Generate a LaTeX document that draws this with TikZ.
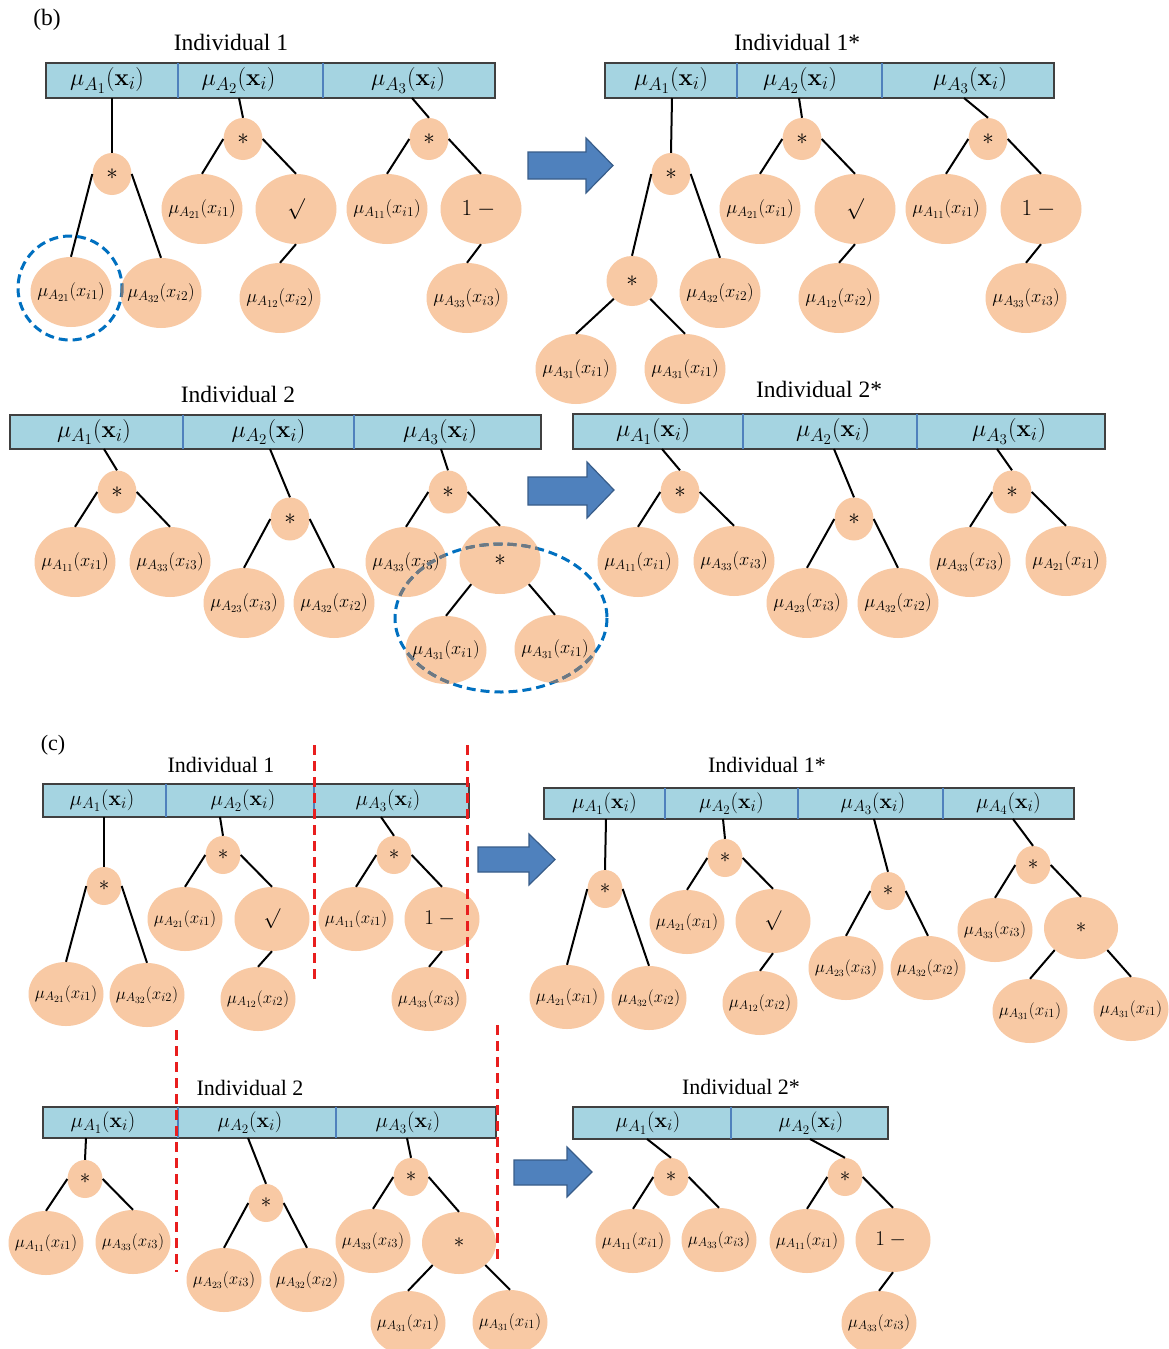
\RequirePackage{fix-cm}
\documentclass[tikz,border=0pt]{standalone}
\usepackage[no-math]{fontspec}
\setmainfont{Liberation Serif}
\usetikzlibrary{shapes.geometric}
\DeclareMathSizes{24}{24}{18.5}{15}
\DeclareMathSizes{21}{21}{16}{13}
\DeclareMathSizes{18.5}{18.5}{13.5}{10.5}
\DeclareMathSizes{17}{17}{12.5}{9.5}
\definecolor{peach}{RGB}{248,201,164}
\definecolor{barblue}{RGB}{165,212,225}
\definecolor{divblue}{RGB}{79,129,189}
\definecolor{arrowfill}{RGB}{79,129,189}
\definecolor{arrowline}{RGB}{56,93,138}
\definecolor{dashblue}{RGB}{0,112,192}
\definecolor{dashgray}{RGB}{112,120,128}
\definecolor{redline}{RGB}{232,30,30}
\newcommand\fbarB{\fontsize{24}{28}\selectfont}
\newcommand\fbarC{\fontsize{21}{25}\selectfont}
\newcommand\fleafB{\fontsize{18.5}{22}\selectfont}
\newcommand\fleafC{\fontsize{17}{20}\selectfont}
\newcommand\fstarB{\fontsize{23}{27}\selectfont}
\newcommand\fstarC{\fontsize{21}{25}\selectfont}
\newcommand\ftitle{\fontsize{23.5}{28}\selectfont}
\newcommand\mlf[2]{$\mu_{A_{#1}}(x_{i#2})$}
\newcommand\mbar[1]{$\mu_{A_{#1}}(\mathbf{x}_i)$}
\newcommand\shft[2]{\hspace*{#1pt}#2\hspace*{-#1pt}}
\tikzset{
  cellB/.style={rectangle, fill=barblue, inner sep=0pt, minimum height=35pt, font=\fbarB},
  cellC/.style={rectangle, fill=barblue, inner sep=0pt, minimum height=32pt, font=\fbarC},
  barframe/.style={draw=black!75, line width=1.5pt},
  divider/.style={draw=divblue, line width=1.8pt},
  leafB/.style={ellipse, fill=peach, minimum width=81pt, minimum height=70pt, inner xsep=-16pt, inner ysep=-4pt, font=\fleafB},
  leafC/.style={ellipse, fill=peach, minimum width=75pt, minimum height=64pt, inner xsep=-16pt, inner ysep=-4pt, font=\fleafC},
  opB/.style={ellipse, fill=peach, minimum width=39pt, minimum height=42pt, inner sep=0pt, font=\fstarB},
  opC/.style={ellipse, fill=peach, minimum width=35pt, minimum height=38pt, inner sep=0pt, font=\fstarC},
  midB/.style={ellipse, fill=peach, minimum width=51pt, minimum height=50pt, inner sep=0pt, font=\fstarB},
  bigB/.style={leafB, font=\fstarB},
  bigC/.style={ellipse, fill=peach, minimum width=74pt, minimum height=62pt, inner sep=0pt, font=\fstarC},
  sqB/.style={leafB, font=\fontsize{21}{25}\selectfont},
  sqC/.style={leafC, font=\fontsize{20}{24}\selectfont},
  omB/.style={leafB, font=\fontsize{23}{27}\selectfont},
  omC/.style={leafC, font=\fontsize{21}{25}\selectfont},
  edge/.style={draw=black, line width=2pt},
  title/.style={font=\ftitle, inner sep=0pt},
  dashring/.style={draw=dashblue, line width=3pt, dash pattern=on 9pt off 5pt},
  dashring2/.style={draw=dashgray, line width=3pt, dash pattern=on 9pt off 5pt},
  cutline/.style={draw=redline, line width=3pt, dash pattern=on 10pt off 6pt},
  blockarrow/.style={fill=arrowfill, draw=arrowline, line width=1.2pt, line join=miter}
}
\begin{document}
\begin{tikzpicture}[x=1pt,y=-1pt]
\useasboundingbox (0,0) rectangle (1168,1349);
\fill[white] (0,0) rectangle (1168,1349);

% ================= panel (b) =================
\node[title] (lbB) at (47,20) {(b)};

% ---- Individual 1 ----
\node[title] (tB1) at (231,42) {Individual 1};
\node[cellB, minimum width=132pt] (b1c1) at (112,80.5) {\shft{-5}{\mbar{1}}};
\node[cellB, minimum width=145pt] (b1c2) at (250.5,80.5) {\shft{-12}{\mbar{2}}};
\node[cellB, minimum width=172pt] (b1c3) at (409,80.5) {\shft{-1}{\mbar{3}}};
\draw[barframe] (b1c1.north west) rectangle (b1c3.south east);
\draw[divider] (b1c1.north east) -- (b1c1.south east);
\draw[divider] (b1c2.north east) -- (b1c2.south east);
\coordinate (b1a1) at (112,98);
\coordinate (b1a2) at (239,98);
\coordinate (b1a3) at (412,98);

\node[opB] (b1s1) at (112,174) {$\ast$};
\node[leafB] (b1l1) at (71,292) {\mlf{21}{1}};
\node[leafB] (b1l2) at (161,293) {\mlf{32}{2}};
\node[opB] (b1s2) at (243,139) {$\ast$};
\node[leafB] (b1l3) at (202,209) {\mlf{21}{1}};
\node[sqB] (b1q) at (296,209) {$\surd$};
\node[leafB] (b1l4) at (280,298) {\mlf{12}{2}};
\node[opB] (b1s3) at (429,139) {$\ast$};
\node[leafB] (b1l5) at (387,209) {\mlf{11}{1}};
\node[omB] (b1m) at (481,209) {$1-{}$};
\node[leafB] (b1l6) at (467,298) {\mlf{33}{3}};

\draw[edge] (b1a1) -- (b1s1.north);
\draw[edge] (b1s1.west) -- (b1l1.north);
\draw[edge] (b1s1.east) -- (b1l2.north);
\draw[edge] (b1a2) -- (b1s2.north);
\draw[edge] (b1s2.west) -- (b1l3.north);
\draw[edge] (b1s2.east) -- (b1q.north);
\draw[edge] (b1q.south) -- (b1l4.north);
\draw[edge] (b1a3) -- (b1s3.north);
\draw[edge] (b1s3.west) -- (b1l5.north);
\draw[edge] (b1s3.east) -- (b1m.north);
\draw[edge] (b1m.south) -- (b1l6.north);

\draw[dashring] (70,288) circle[radius=52];
\begin{scope}
  \clip (b1l2.center) ellipse[x radius=40.5, y radius=35];
  \draw[dashring2] (70,288) circle[radius=52];
\end{scope}

% ---- Individual 1* ----
\node[title] (tB1s) at (797,42) {Individual 1*};
\node[cellB, minimum width=132pt] (d1c1) at (671,80.5) {\mbar{1}};
\node[cellB, minimum width=145pt] (d1c2) at (809.5,80.5) {\shft{-9.5}{\mbar{2}}};
\node[cellB, minimum width=172pt] (d1c3) at (968,80.5) {\shft{2}{\mbar{3}}};
\draw[barframe] (d1c1.north west) rectangle (d1c3.south east);
\draw[divider] (d1c1.north east) -- (d1c1.south east);
\draw[divider] (d1c2.north east) -- (d1c2.south east);
\coordinate (d1a1) at (672,98);
\coordinate (d1a2) at (799,98);
\coordinate (d1a3) at (964,98);

\node[opB] (d1s1) at (671,174) {$\ast$};
\node[midB] (d1s4) at (632,281) {$\ast$};
\node[leafB] (d1l1) at (576,369) {\mlf{31}{1}};
\node[leafB] (d1l2) at (685,369) {\mlf{31}{1}};
\node[leafB] (d1l3) at (720,293) {\mlf{32}{2}};
\node[opB] (d1s2) at (802,139) {$\ast$};
\node[leafB] (d1l4) at (760,209) {\mlf{21}{1}};
\node[sqB] (d1q) at (855,209) {$\surd$};
\node[leafB] (d1l5) at (839,298) {\mlf{12}{2}};
\node[opB] (d1s3) at (988,139) {$\ast$};
\node[leafB] (d1l6) at (946,209) {\mlf{11}{1}};
\node[omB] (d1m) at (1041,209) {$1-{}$};
\node[leafB] (d1l7) at (1026,298) {\mlf{33}{3}};

\draw[edge] (d1a1) -- (d1s1.north);
\draw[edge] (d1s1.west) -- (d1s4.north);
\draw[edge] (d1s1.east) -- (d1l3.north);
\draw[edge] (d1s4.south west) -- (d1l1.north);
\draw[edge] (d1s4.south east) -- (d1l2.north);
\draw[edge] (d1a2) -- (d1s2.north);
\draw[edge] (d1s2.west) -- (d1l4.north);
\draw[edge] (d1s2.east) -- (d1q.north);
\draw[edge] (d1q.south) -- (d1l5.north);
\draw[edge] (d1a3) -- (d1s3.north);
\draw[edge] (d1s3.west) -- (d1l6.north);
\draw[edge] (d1s3.east) -- (d1m.north);
\draw[edge] (d1m.south) -- (d1l7.north);

% ---- Individual 2 ----
\node[title] (tB2) at (238,394) {Individual 2};
\node[cellB, minimum width=173pt, minimum height=34pt] (b2c1) at (96.5,432) {\shft{-2.5}{\mbar{1}}};
\node[cellB, minimum width=171pt, minimum height=34pt] (b2c2) at (268.5,432) {\mbar{2}};
\node[cellB, minimum width=187pt, minimum height=34pt] (b2c3) at (447.5,432) {\shft{-7.5}{\mbar{3}}};
\draw[barframe] (b2c1.north west) rectangle (b2c3.south east);
\draw[divider] (b2c1.north east) -- (b2c1.south east);
\draw[divider] (b2c2.north east) -- (b2c2.south east);
\coordinate (b2a1) at (104,449);
\coordinate (b2a2) at (270,449);
\coordinate (b2a3) at (441,449);

\node[opB, minimum height=43pt] (b2s1) at (117,492) {$\ast$};
\node[leafB] (b2l1) at (75,562) {\mlf{11}{1}};
\node[leafB] (b2l2) at (170,562) {\mlf{33}{3}};
\node[opB, minimum height=43pt] (b2s2) at (290,519) {$\ast$};
\node[leafB] (b2l3) at (244,603) {\mlf{23}{3}};
\node[leafB] (b2l4) at (334,603) {\mlf{32}{2}};
\node[opB, minimum height=43pt] (b2s3) at (448,492) {$\ast$};
\node[leafB] (b2l5) at (406,562) {\mlf{33}{3}};
\node[bigB, minimum height=68pt] (b2b) at (500,560) {$\ast$};
\node[leafB, minimum height=68pt] (b2l6) at (446,650) {\mlf{31}{1}};
\node[leafB, minimum height=68pt] (b2l7) at (555,649) {\mlf{31}{1}};

\draw[edge] (b2a1) -- (b2s1.north);
\draw[edge] (b2s1.west) -- (b2l1.north);
\draw[edge] (b2s1.east) -- (b2l2.north);
\draw[edge] (b2a2) -- (b2s2.north);
\draw[edge] (b2s2.west) -- (b2l3.north);
\draw[edge] (b2s2.east) -- (b2l4.north);
\draw[edge] (b2a3) -- (b2s3.north);
\draw[edge] (b2s3.west) -- (b2l5.north);
\draw[edge] (b2s3.east) -- (b2b.north);
\draw[edge] (b2b.south west) -- (b2l6.north);
\draw[edge] (b2b.south east) -- (b2l7.north);

\draw[dashring] (501,618) ellipse[x radius=106, y radius=74];
\begin{scope}
  \clip (b2l5.center) ellipse[x radius=40.5, y radius=35]
        (b2b.center) ellipse[x radius=40.5, y radius=34]
        (b2l6.center) ellipse[x radius=40.5, y radius=34]
        (b2l7.center) ellipse[x radius=40.5, y radius=34];
  \draw[dashring2] (501,618) ellipse[x radius=106, y radius=74];
\end{scope}

% ---- Individual 2* ----
\node[title] (tB2s) at (819,389) {Individual 2*};
\node[cellB, minimum width=170pt] (d2c1) at (658,431.5) {\shft{-5}{\mbar{1}}};
\node[cellB, minimum width=174pt] (d2c2) at (830,431.5) {\shft{3}{\mbar{2}}};
\node[cellB, minimum width=188pt] (d2c3) at (1011,431.5) {\shft{-2}{\mbar{3}}};
\draw[barframe] (d2c1.north west) rectangle (d2c3.south east);
\draw[divider] (d2c1.north east) -- (d2c1.south east);
\draw[divider] (d2c2.north east) -- (d2c2.south east);
\coordinate (d2a1) at (662,449);
\coordinate (d2a2) at (834,449);
\coordinate (d2a3) at (997,449);

\node[opB, minimum height=43pt] (d2s1) at (680,492) {$\ast$};
\node[leafB] (d2l1) at (638,562) {\mlf{11}{1}};
\node[leafB] (d2l2) at (734,561) {\mlf{33}{3}};
\node[opB, minimum height=43pt] (d2s2) at (854,519) {$\ast$};
\node[leafB] (d2l3) at (807,603) {\mlf{23}{3}};
\node[leafB] (d2l4) at (898,603) {\mlf{32}{2}};
\node[opB, minimum height=43pt] (d2s3) at (1012,492) {$\ast$};
\node[leafB] (d2l5) at (970,562) {\mlf{33}{3}};
\node[leafB] (d2l6) at (1066,561) {\mlf{21}{1}};

\draw[edge] (d2a1) -- (d2s1.north);
\draw[edge] (d2s1.west) -- (d2l1.north);
\draw[edge] (d2s1.east) -- (d2l2.north);
\draw[edge] (d2a2) -- (d2s2.north);
\draw[edge] (d2s2.west) -- (d2l3.north);
\draw[edge] (d2s2.east) -- (d2l4.north);
\draw[edge] (d2a3) -- (d2s3.north);
\draw[edge] (d2s3.west) -- (d2l5.north);
\draw[edge] (d2s3.east) -- (d2l6.north);

% arrows (b)
\filldraw[blockarrow] (528,152) -- (586,152) -- (586,138) -- (613,165.5) -- (586,193) -- (586,179) -- (528,179) -- cycle;
\filldraw[blockarrow] (528,477) -- (587,477) -- (587,462) -- (614,490) -- (587,518) -- (587,505) -- (528,505) -- cycle;

% ================= panel (c) =================
\node[title, font=\fontsize{22}{26}\selectfont] (lbC) at (53,745) {(c)};

% ---- Individual 1 ----
\node[title, font=\fontsize{22}{26}\selectfont] (tC1) at (221,765) {Individual 1};
\node[cellC, minimum width=123pt, minimum height=33pt] (c1c1) at (104.5,800.5) {\shft{-2.5}{\mbar{1}}};
\node[cellC, minimum width=148pt, minimum height=33pt] (c1c2) at (240,800.5) {\shft{3}{\mbar{2}}};
\node[cellC, minimum width=155pt, minimum height=33pt] (c1c3) at (391.5,800.5) {\shft{-3.5}{\mbar{3}}};
\draw[barframe] (c1c1.north west) rectangle (c1c3.south east);
\draw[divider] (c1c1.north east) -- (c1c1.south east);
\draw[divider] (c1c2.north east) -- (c1c2.south east);
\coordinate (c1a1) at (104,817);
\coordinate (c1a2) at (220,817);
\coordinate (c1a3) at (381,817);

\node[opC] (c1s1) at (104,886) {$\ast$};
\node[leafC] (c1l1) at (66,994) {\mlf{21}{1}};
\node[leafC] (c1l2) at (147,995) {\mlf{32}{2}};
\node[opC] (c1s2) at (223,855) {$\ast$};
\node[leafC] (c1l3) at (185,919) {\mlf{21}{1}};
\node[sqC] (c1q) at (272,919) {$\surd$};
\node[leafC] (c1l4) at (258,999) {\mlf{12}{2}};
\node[opC] (c1s3) at (394,855) {$\ast$};
\node[leafC] (c1l5) at (356,919) {\mlf{11}{1}};
\node[omC] (c1m) at (442,919) {$1-{}$};
\node[leafC] (c1l6) at (429,999) {\mlf{33}{3}};

\draw[edge] (c1a1) -- (c1s1.north);
\draw[edge] (c1s1.west) -- (c1l1.north);
\draw[edge] (c1s1.east) -- (c1l2.north);
\draw[edge] (c1a2) -- (c1s2.north);
\draw[edge] (c1s2.west) -- (c1l3.north);
\draw[edge] (c1s2.east) -- (c1q.north);
\draw[edge] (c1q.south) -- (c1l4.north);
\draw[edge] (c1a3) -- (c1s3.north);
\draw[edge] (c1s3.west) -- (c1l5.north);
\draw[edge] (c1s3.east) -- (c1m.north);
\draw[edge] (c1m.south) -- (c1l6.north);

\draw[cutline] (314,745) -- (314,985);
\draw[cutline] (467,745) -- (467,985);

% ---- Individual 1* ----
\node[title, font=\fontsize{22}{26}\selectfont] (tC1s) at (767,765) {Individual 1*};
\node[cellC, minimum width=121pt, minimum height=31pt] (e1c1) at (604.5,803.5) {\mbar{1}};
\node[cellC, minimum width=133pt, minimum height=31pt] (e1c2) at (731.5,803.5) {\mbar{2}};
\node[cellC, minimum width=145pt, minimum height=31pt] (e1c3) at (870.5,803.5) {\shft{2.5}{\mbar{3}}};
\node[cellC, minimum width=131pt, minimum height=31pt] (e1c4) at (1008.5,803.5) {\mbar{4}};
\draw[barframe] (e1c1.north west) rectangle (e1c4.south east);
\draw[divider] (e1c1.north east) -- (e1c1.south east);
\draw[divider] (e1c2.north east) -- (e1c2.south east);
\draw[divider] (e1c3.north east) -- (e1c3.south east);
\coordinate (e1a1) at (606,819);
\coordinate (e1a2) at (723,819);
\coordinate (e1a3) at (874,819);
\coordinate (e1a4) at (1013,819);

\node[opC] (e1s1) at (605,889) {$\ast$};
\node[leafC] (e1l1) at (567,997) {\mlf{21}{1}};
\node[leafC] (e1l2) at (649,998) {\mlf{32}{2}};
\node[opC] (e1s2) at (725,858) {$\ast$};
\node[leafC] (e1l3) at (687,922) {\mlf{21}{1}};
\node[sqC] (e1q) at (773,921) {$\surd$};
\node[leafC] (e1l4) at (760,1003) {\mlf{12}{2}};
\node[opC] (e1s3) at (888,891) {$\ast$};
\node[leafC] (e1l5) at (846,968) {\mlf{23}{3}};
\node[leafC] (e1l6) at (928,968) {\mlf{32}{2}};
\node[opC] (e1s4) at (1033,865) {$\ast$};
\node[leafC] (e1l7) at (995,930) {\mlf{33}{3}};
\node[bigC] (e1b) at (1081,928) {$\ast$};
\node[leafC] (e1l8) at (1030,1011) {\mlf{31}{1}};
\node[leafC] (e1l9) at (1131,1009) {\mlf{31}{1}};

\draw[edge] (e1a1) -- (e1s1.north);
\draw[edge] (e1s1.west) -- (e1l1.north);
\draw[edge] (e1s1.east) -- (e1l2.north);
\draw[edge] (e1a2) -- (e1s2.north);
\draw[edge] (e1s2.west) -- (e1l3.north);
\draw[edge] (e1s2.east) -- (e1q.north);
\draw[edge] (e1q.south) -- (e1l4.north);
\draw[edge] (e1a3) -- (e1s3.north);
\draw[edge] (e1s3.west) -- (e1l5.north);
\draw[edge] (e1s3.east) -- (e1l6.north);
\draw[edge] (e1a4) -- (e1s4.north);
\draw[edge] (e1s4.west) -- (e1l7.north);
\draw[edge] (e1s4.east) -- (e1b.north);
\draw[edge] (e1b.south west) -- (e1l8.north);
\draw[edge] (e1b.south east) -- (e1l9.north);

% ---- Individual 2 ----
\node[title, font=\fontsize{22}{26}\selectfont] (tC2) at (250,1088) {Individual 2};
\node[cellC, minimum width=135pt, minimum height=31pt] (c2c1) at (110.5,1122.5) {\shft{-7.5}{\mbar{1}}};
\node[cellC, minimum width=158pt, minimum height=31pt] (c2c2) at (257,1122.5) {\shft{-7}{\mbar{2}}};
\node[cellC, minimum width=160pt, minimum height=31pt] (c2c3) at (416,1122.5) {\shft{-8}{\mbar{3}}};
\draw[barframe] (c2c1.north west) rectangle (c2c3.south east);
\draw[divider] (c2c1.north east) -- (c2c1.south east);
\draw[divider] (c2c2.north east) -- (c2c2.south east);
\coordinate (c2a1) at (86,1138);
\coordinate (c2a2) at (248,1138);
\coordinate (c2a3) at (407,1138);

\node[opC] (c2s1) at (85,1179) {$\ast$};
\node[leafC] (c2l1) at (46,1243) {\mlf{11}{1}};
\node[leafC] (c2l2) at (133,1242) {\mlf{33}{3}};
\node[opC] (c2s2) at (266,1203) {$\ast$};
\node[leafC] (c2l3) at (224,1280) {\mlf{23}{3}};
\node[leafC] (c2l4) at (307,1280) {\mlf{32}{2}};
\node[opC] (c2s3) at (411,1177) {$\ast$};
\node[leafC] (c2l5) at (373,1241) {\mlf{33}{3}};
\node[bigC] (c2b) at (459,1243) {$\ast$};
\node[leafC] (c2l6) at (408,1323) {\mlf{31}{1}};
\node[leafC] (c2l7) at (510,1322) {\mlf{31}{1}};

\draw[edge] (c2a1) -- (c2s1.north);
\draw[edge] (c2s1.west) -- (c2l1.north);
\draw[edge] (c2s1.east) -- (c2l2.north);
\draw[edge] (c2a2) -- (c2s2.north);
\draw[edge] (c2s2.west) -- (c2l3.north);
\draw[edge] (c2s2.east) -- (c2l4.north);
\draw[edge] (c2a3) -- (c2s3.north);
\draw[edge] (c2s3.west) -- (c2l5.north);
\draw[edge] (c2s3.east) -- (c2b.north);
\draw[edge] (c2b.south west) -- (c2l6.north);
\draw[edge] (c2b.south east) -- (c2l7.north);

\draw[cutline] (176,1030) -- (176,1272);
\draw[cutline] (497,1025) -- (497,1265);

% ---- Individual 2* ----
\node[title, font=\fontsize{22}{26}\selectfont] (tC2s) at (741,1087) {Individual 2*};
\node[cellC, minimum width=158pt, minimum height=32pt] (e2c1) at (652,1123) {\shft{-4}{\mbar{1}}};
\node[cellC, minimum width=157pt, minimum height=32pt] (e2c2) at (809.5,1123) {\shft{1.5}{\mbar{2}}};
\draw[barframe] (e2c1.north west) rectangle (e2c2.south east);
\draw[divider] (e2c1.north east) -- (e2c1.south east);
\coordinate (e2a1) at (647,1139);
\coordinate (e2a2) at (810,1139);

\node[opC] (e2s1) at (671,1177) {$\ast$};
\node[leafC] (e2l1) at (633,1241) {\mlf{11}{1}};
\node[leafC] (e2l2) at (719,1240) {\mlf{33}{3}};
\node[opC] (e2s2) at (845,1177) {$\ast$};
\node[leafC] (e2l3) at (807,1241) {\mlf{11}{1}};
\node[omC] (e2m) at (893,1240) {$1-{}$};
\node[leafC] (e2l4) at (879,1323) {\mlf{33}{3}};

\draw[edge] (e2a1) -- (e2s1.north);
\draw[edge] (e2s1.west) -- (e2l1.north);
\draw[edge] (e2s1.east) -- (e2l2.north);
\draw[edge] (e2a2) -- (e2s2.north);
\draw[edge] (e2s2.west) -- (e2l3.north);
\draw[edge] (e2s2.east) -- (e2m.north);
\draw[edge] (e2m.south) -- (e2l4.north);

% arrows (c)
\filldraw[blockarrow] (478,847) -- (529,847) -- (529,834) -- (555,859.5) -- (529,885) -- (529,872) -- (478,872) -- cycle;
\filldraw[blockarrow] (514,1160) -- (567,1160) -- (567,1147) -- (592,1172) -- (567,1197) -- (567,1185) -- (514,1185) -- cycle;
\end{tikzpicture}
\end{document}
